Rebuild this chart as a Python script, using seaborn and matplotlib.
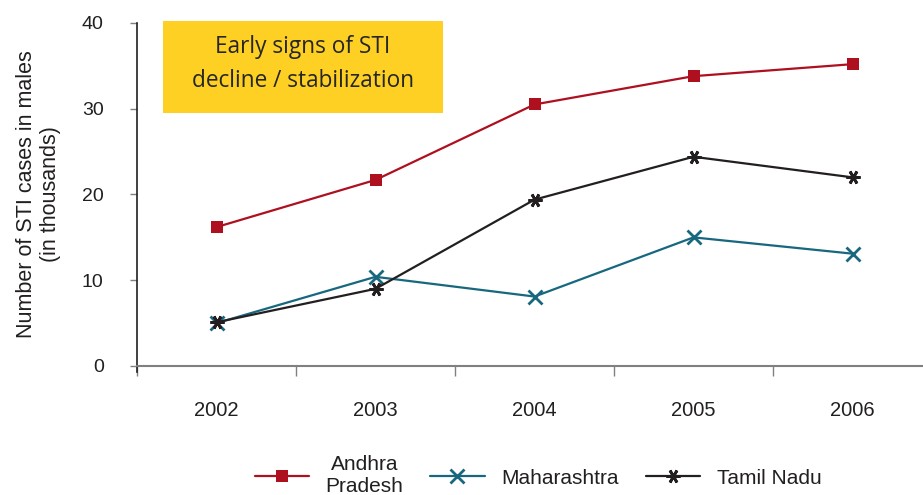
import matplotlib
matplotlib.use("Agg")
import matplotlib.pyplot as plt
import seaborn as sns
import pandas as pd
from matplotlib.ticker import FixedLocator

years = ["2002", "2003", "2004", "2005", "2006"]
andhra = [16.2, 21.7, 30.5, 33.8, 35.2]
maharashtra = [5.0, 10.4, 8.1, 15.0, 13.1]
tamil = [5.1, 9.0, 19.4, 24.4, 22.0]
series_names = ["Andhra\nPradesh", "Maharashtra", "Tamil Nadu"]
colors = ["#AE1020", "#17687F", "#231F20"]
markers = ["s", "x", (6, 2, 90)]

df = pd.DataFrame({
    "year": years * 3,
    "value": andhra + maharashtra + tamil,
    "series": sum([[n] * len(years) for n in series_names], []),
})

sns.set_style("white")
plt.rcParams["font.family"] = ["Liberation Sans", "DejaVu Sans"]

fig = plt.figure(figsize=(9.23, 4.95), dpi=100)
ax = fig.add_axes([137 / 923, (495 - 366) / 495, (932 - 137) / 923, (366 - 23) / 495])

for name, col, mk in zip(series_names, colors, markers):
    sub = df[df["series"] == name]
    sns.lineplot(data=sub, x="year", y="value", ax=ax, color=col, marker=mk,
                 markersize=9 if mk == "s" else 10, markeredgewidth=0 if mk == "s" else 2,
                 markeredgecolor=col, linewidth=1.6, label=name)

ax.set_xlim(-0.5, 4.5)
ax.set_ylim(0, 40)
ax.set_yticks([0, 10, 20, 30, 40])
ax.set_xticks(range(len(years)))
ax.set_xticklabels(years)
ax.xaxis.set_minor_locator(FixedLocator([i - 0.5 for i in range(len(years) + 1)]))
ax.tick_params(axis="x", which="major", length=0, pad=25, labelsize=14.5, labelcolor="#231F20")
ax.tick_params(axis="x", which="minor", length=7, width=1, color="#808080", bottom=True)
ax.tick_params(axis="y", length=5, width=1, color="#808080", pad=19, labelsize=14, labelcolor="#231F20", left=True)
ax.set_xlabel("")
ax.set_ylabel("Number of STI cases in males\n(in thousands)", fontsize=15.5, color="#231F20", labelpad=15)

for s in ["top", "right"]:
    ax.spines[s].set_visible(False)
ax.spines["left"].set_color("#231F20")
ax.spines["left"].set_linewidth(1.2)
ax.spines["left"].set_bounds(-0.7, 40)
ax.spines["bottom"].set_color("#808080")
ax.spines["bottom"].set_linewidth(1.5)

# annotation box
fig.patches.append(plt.Rectangle((163 / 923, (495 - 113) / 495), 280 / 923, 92 / 495,
                                 transform=fig.transFigure, facecolor="#FDD023", edgecolor="none", zorder=0))
fig.text(303 / 923, (495 - 64) / 495, "Early signs of STI\ndecline / stabilization",
         ha="center", va="center", fontsize=16.3, color="#262626", family=["Open Sans", "DejaVu Sans"],
         linespacing=1.55, weight="medium")

leg = ax.legend(loc="center", bbox_to_anchor=(538 / 923, (495 - 476) / 495),
                bbox_transform=fig.transFigure, ncol=3, frameon=False, fontsize=15,
                handlelength=2.6, columnspacing=1.3, handletextpad=0.8, borderaxespad=0)
for t in leg.get_texts():
    t.set_color("#231F20")
    t.set_multialignment("center")

fig.savefig("out.png", dpi=100)
